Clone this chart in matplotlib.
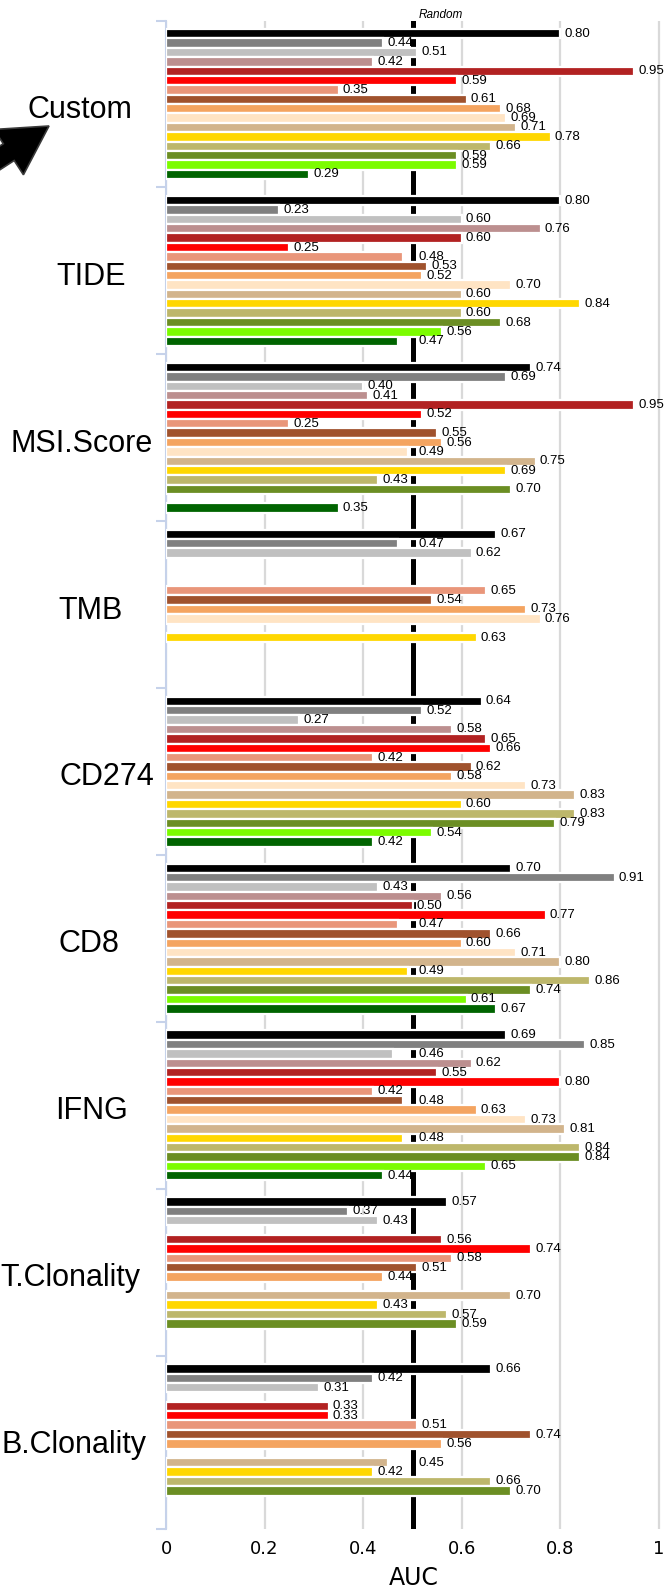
import numpy as np
import matplotlib
matplotlib.use("Agg")
import matplotlib.pyplot as plt
from matplotlib.patches import FancyArrow
from matplotlib.transforms import IdentityTransform, blended_transform_factory

nan = np.nan

groups = ["Custom", "TIDE", "MSI.Score", "TMB", "CD274", "CD8", "IFNG",
          "T.Clonality", "B.Clonality"]

series_colors = ["#000000", "#808080", "#C0C0C0", "#BC8F8F", "#B22222", "#FF0000",
                 "#E9967A", "#A0522D", "#F4A460", "#FFE4C4", "#D2B48C", "#FFD700",
                 "#BDB76B", "#6B8E23", "#7CFC00", "#006400"]

auc_custom = [0.80, 0.44, 0.51, 0.42, 0.95, 0.59, 0.35, 0.61, 0.68, 0.69, 0.71, 0.78, 0.66, 0.59, 0.59, 0.29]
auc_tide = [0.80, 0.23, 0.60, 0.76, 0.60, 0.25, 0.48, 0.53, 0.52, 0.70, 0.60, 0.84, 0.60, 0.68, 0.56, 0.47]
auc_msi = [0.74, 0.69, 0.40, 0.41, 0.95, 0.52, 0.25, 0.55, 0.56, 0.49, 0.75, 0.69, 0.43, 0.70, nan, 0.35]
auc_tmb = [0.67, 0.47, 0.62, nan, nan, nan, 0.65, 0.54, 0.73, 0.76, nan, 0.63, nan, nan, nan, nan]
auc_cd274 = [0.64, 0.52, 0.27, 0.58, 0.65, 0.66, 0.42, 0.62, 0.58, 0.73, 0.83, 0.60, 0.83, 0.79, 0.54, 0.42]
auc_cd8 = [0.70, 0.91, 0.43, 0.56, 0.50, 0.77, 0.47, 0.66, 0.60, 0.71, 0.80, 0.49, 0.86, 0.74, 0.61, 0.67]
auc_ifng = [0.69, 0.85, 0.46, 0.62, 0.55, 0.80, 0.42, 0.48, 0.63, 0.73, 0.81, 0.48, 0.84, 0.84, 0.65, 0.44]
auc_tclon = [0.57, 0.37, 0.43, nan, 0.56, 0.74, 0.58, 0.51, 0.44, nan, 0.70, 0.43, 0.57, 0.59, nan, nan]
auc_bclon = [0.66, 0.42, 0.31, nan, 0.33, 0.33, 0.51, 0.74, 0.56, nan, 0.45, 0.42, 0.66, 0.70, nan, nan]

auc_table = [auc_custom, auc_tide, auc_msi, auc_tmb, auc_cd274, auc_cd8, auc_ifng,
             auc_tclon, auc_bclon]

x_ticks = [0, 0.2, 0.4, 0.6, 0.8, 1.0]
x_ticklabels = ["0", "0.2", "0.4", "0.6", "0.8", "1"]

random_auc = 0.5

# ---------------- layout ----------------
W, H = 667, 1588
fig = plt.figure(figsize=(W / 100, H / 100), dpi=100)
n_groups = len(groups)
n_series = len(series_colors)
slot = 1 / 17.8
group_px = 166.9
extra_bottom = 6 / group_px

ax_left_px, ax_right_px = 166, 661.5
ax_top_px = 20.6
ax_bot_px = ax_top_px + group_px * (n_groups + extra_bottom)
ax = fig.add_axes([ax_left_px / W, 1 - ax_bot_px / H,
                   (ax_right_px - ax_left_px) / W, (ax_bot_px - ax_top_px) / H])

ybottom = n_groups - 0.5 + extra_bottom
ax.set_xlim(0, 1.005)
ax.set_ylim(ybottom, -0.5)

# grid and random line (under bars)
ax.set_axisbelow(True)
ax.xaxis.grid(True, color="#d9d9d9", lw=1.6)
ax.axvline(random_auc, color="black", lw=3.6, zorder=1.5)

vals = np.array(auc_table, dtype=float)
gpos = np.arange(n_groups)
label_font = dict(family="Liberation Sans", size=9.5, color="black")
for i, col in enumerate(series_colors):
    ys = gpos + (i - 7.5) * slot
    v = vals[:, i]
    ok = ~np.isnan(v)
    ax.barh(ys[ok], v[ok], height=slot, color=col, edgecolor="white",
            linewidth=1.6, zorder=3)
    for y, val in zip(ys[ok], v[ok]):
        if 0.445 <= val < 0.5:
            xa, off = random_auc, 4.5
        else:
            xa, off = val, 3.0
        ax.annotate(f"{val:.2f}", xy=(xa, y), xytext=(off, 0),
                    textcoords="offset points", ha="left", va="center",
                    zorder=4, **label_font)

# spines / ticks
for s in ["top", "right", "bottom"]:
    ax.spines[s].set_visible(False)
spine_col = "#c6d2ea"
ax.spines["left"].set_color(spine_col)
ax.spines["left"].set_linewidth(1.5)
ax.set_yticks(np.r_[np.arange(-0.5, n_groups - 1, 1.0), ybottom])
ax.set_yticklabels([])
ax.tick_params(axis="y", direction="out", length=7, width=1.5, color=spine_col)
ax.set_xticks(x_ticks)
ax.set_xticklabels(x_ticklabels, fontsize=13, family="DejaVu Sans")
ax.tick_params(axis="x", length=0, pad=8)
ax.set_xlabel("AUC", fontsize=17, family="DejaVu Sans", labelpad=6)

# group labels
label_x_px = [80, 91, 82, 91, 107, 89, 92, 70, 74]
tr = blended_transform_factory(fig.transFigure, ax.transData)
for g, name in enumerate(groups):
    ax.text(label_x_px[g] / W, g + 0.035, name, transform=tr, ha="center", va="center",
            fontsize=22, family="Liberation Sans", clip_on=False)

# "Random" caption
ax.text(random_auc + 0.012, -0.5, "Random", ha="left", va="bottom",
        fontsize=8.5, style="italic", family="Liberation Sans", clip_on=False)

# arrow pointing at "Custom"
tip = np.array([49.0, H - 126.0])
d = np.array([37.0, 24.0])
d = d / np.hypot(*d)
start = tip - d * 120
arrow = FancyArrow(start[0], start[1], *(tip - start), width=20, head_width=54,
                   head_length=48, length_includes_head=True,
                   facecolor="black", edgecolor="#3a3a3a", linewidth=1.2,
                   transform=IdentityTransform())
fig.add_artist(arrow)

fig.savefig("out.png", dpi=100)
